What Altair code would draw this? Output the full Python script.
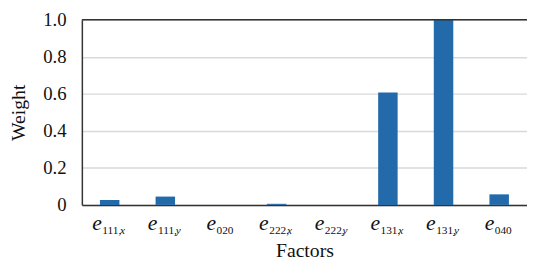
import altair as alt
import pandas as pd

factors = ["e111x", "e111y", "e020", "e222x", "e222y", "e131x", "e131y", "e040"]
sub_nums = ["111,", "111,", "020", "222,", "222,", "131,", "131,", "040"]
sub_vars = ["x", "y", "", "x", "y", "x", "y", ""]
weights = [0.027, 0.045, 0.0, 0.006, 0.0, 0.607, 1.0, 0.057]
y_ticks = [0, 0.2, 0.4, 0.6, 0.8, 1.0]
top_line = [1.0]

df = pd.DataFrame({"factor": factors, "num": sub_nums, "var": sub_vars, "weight": weights})
df["hasvar"] = df["var"] != ""

W, H = 452, 188
FONT = "Times New Roman, Liberation Serif, serif"
TXT = "#111111"
AX = "#333333"

xscale = alt.Scale(domain=factors, paddingInner=0.65, paddingOuter=0.325)
x = alt.X(
    "factor:N", scale=xscale, sort=factors,
    axis=alt.Axis(labels=False, ticks=False, tickSize=0, title="Factors",
                  domainColor=AX, domainWidth=1.5, titleFont=FONT, titleFontSize=20,
                  titleFontWeight="normal", titleColor=TXT, titlePadding=36),
)
y = alt.Y(
    "weight:Q", scale=alt.Scale(domain=[0, 1], nice=False),
    axis=alt.Axis(values=y_ticks, labelExpr="datum.value == 0 ? '0' : format(datum.value, '.1f')",
                  labelOverlap=False, ticks=False, tickSize=0, labelPadding=16, labelFont=FONT,
                  labelFontSize=19, labelColor=TXT, domainColor=AX, domainWidth=1.5,
                  gridColor="#d9d9d9", gridWidth=1.5, title="Weight", titleFont=FONT,
                  titleFontSize=20, titleFontWeight="normal", titleColor=TXT, titlePadding=14),
)

base = alt.Chart(df)
bars = base.mark_bar(color="#236aaa").encode(x=x, y=y)

top_rule = alt.Chart(pd.DataFrame({"weight": top_line})).mark_rule(
    color=AX, strokeWidth=1.5).encode(y=y)

E_Y = 213
S_Y = 218
E_SIZE = 22
S_SIZE = 11.5

with_var = base.transform_filter("datum.hasvar")
no_var = base.transform_filter("!datum.hasvar")

e_var = with_var.mark_text(text="e", font=FONT, fontStyle="italic", fontSize=E_SIZE,
                           align="right", baseline="alphabetic", dx=-8, color=TXT).encode(
    x=x, y=alt.value(E_Y))
e_novar = no_var.mark_text(text="e", font=FONT, fontStyle="italic", fontSize=E_SIZE,
                           align="right", baseline="alphabetic", dx=-5, color=TXT).encode(
    x=x, y=alt.value(E_Y))
n_var = with_var.mark_text(font=FONT, fontSize=S_SIZE, align="left", baseline="alphabetic",
                           dx=-7.5, color=TXT).encode(x=x, y=alt.value(S_Y), text="num:N")
n_novar = no_var.mark_text(font=FONT, fontSize=S_SIZE, align="left", baseline="alphabetic",
                           dx=-4.5, color=TXT).encode(x=x, y=alt.value(S_Y), text="num:N")
v_var = with_var.mark_text(font=FONT, fontStyle="italic", fontSize=S_SIZE, align="left",
                           baseline="alphabetic", dx=10.5, color=TXT).encode(
    x=x, y=alt.value(S_Y), text="var:N")

chart = alt.layer(bars, top_rule, e_var, e_novar, n_var, n_novar, v_var).properties(
    width=W, height=H,
    autosize=alt.AutoSizeParams(type="none"),
    padding={"left": 75, "top": 10, "right": 0, "bottom": 54},
).configure_view(stroke=None)

chart.save("out.html", embed_options={"renderer": "svg", "actions": False})
